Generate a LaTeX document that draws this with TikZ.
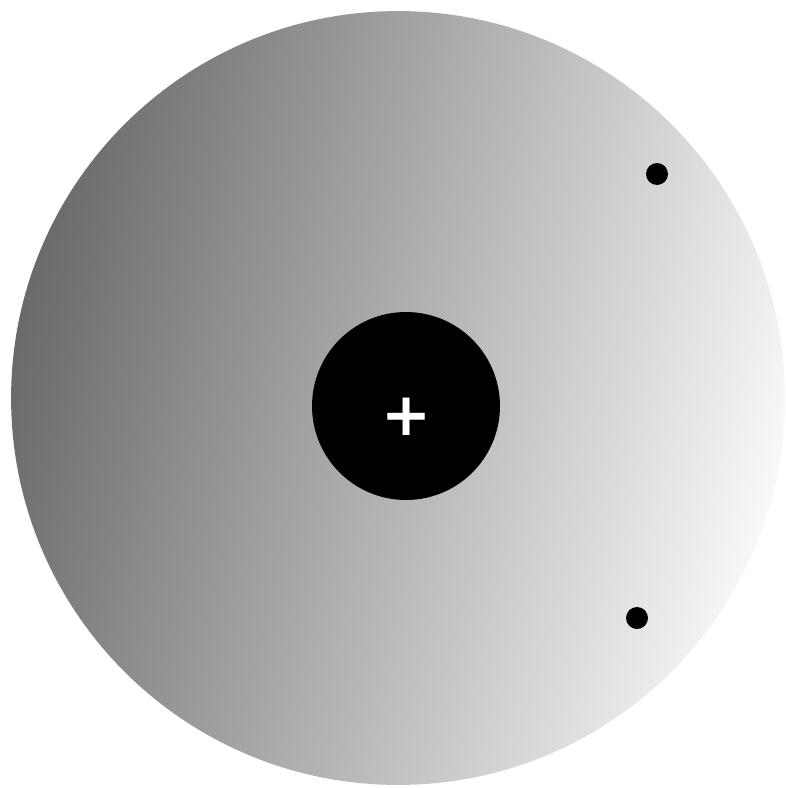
\documentclass[tikz,border=0pt]{standalone}
\usepackage{fontspec}
\setmainfont{DejaVu Sans}
\definecolor{shelldark}{HTML}{6A6A6A}
\definecolor{shellmid}{HTML}{D4D4D4}
\definecolor{shelllight}{HTML}{F8F8F8}
\tikzset{
  shell/.style={circle, inner sep=0pt, minimum size=15.48cm,
                left color=shelldark, middle color=shellmid, right color=shelllight,
                shading angle=76},
  nucleus/.style={circle, fill=black, inner sep=0pt, minimum size=3.76cm},
  charge/.style={text=white, font=\bfseries\fontsize{34}{34}\selectfont, inner sep=0pt},
  electron/.style={circle, fill=black, inner sep=0pt, minimum size=0.44cm},
}
\begin{document}
\begin{tikzpicture}[x=0.02cm, y=-0.02cm]
    \useasboundingbox (0,0) rectangle (785,788);
    % atom
    \node[shell]    (atom) at (398,398) {};
    \node[nucleus]  (nuc)  at (406,406) {};
    \node[charge]   (plus) at (407,417) {+};
    % electrons
    \node[electron] (e1)   at (657,174) {};
    \node[electron] (e2)   at (637,618) {};
\end{tikzpicture}
\end{document}
